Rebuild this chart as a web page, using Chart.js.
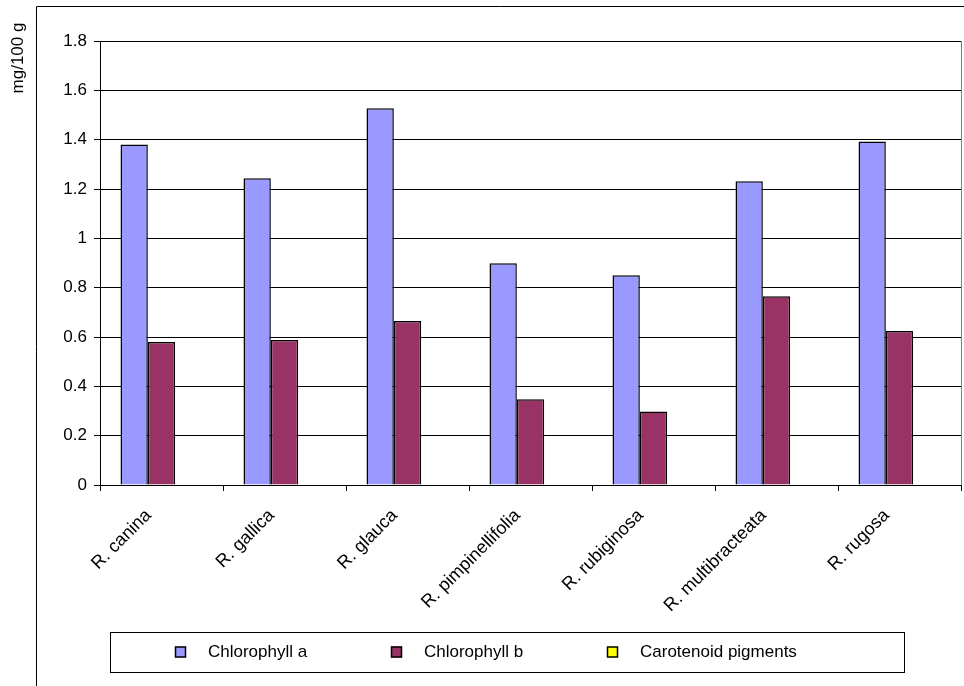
<!DOCTYPE html>
<html>
<head>
<meta charset="utf-8">
<script src="https://cdn.jsdelivr.net/npm/chart.js@4/dist/chart.umd.min.js"></script>
<style>
  html, body { margin: 0; padding: 0; background: #fff; }
  #c { display: block; }
</style>
</head>
<body>
<canvas id="c" width="964" height="686"></canvas>
<script>
// Rose species and pigment contents (mg/100 g)
const species = ['R. canina', 'R. gallica', 'R. glauca', 'R. pimpinellifolia', 'R. rubiginosa', 'R. multibracteata', 'R. rugosa'];
const chlorophyllA = [1.38, 1.244, 1.527, 0.899, 0.85, 1.231, 1.393];
const chlorophyllB = [0.58, 0.588, 0.665, 0.348, 0.298, 0.765, 0.624];
const carotenoids = [null, null, null, null, null, null, null];
const seriesNames = ['Chlorophyll a', 'Chlorophyll b', 'Carotenoid pigments'];
const seriesColors = ['#9999FF', '#993366', '#FFFF00'];
const yTicks = [0, 0.2, 0.4, 0.6, 0.8, 1, 1.2, 1.4, 1.6, 1.8];
const yTitle = 'mg/100 g';

const FONT = '"Liberation Sans", Arial, sans-serif';

// Outer frame, y-axis caption and right border of the plot area
const decorations = {
  id: 'decorations',
  beforeDraw(chart) {
    const ctx = chart.ctx;
    ctx.save();
    ctx.fillStyle = '#fff';
    ctx.fillRect(0, 0, chart.width, chart.height);
    ctx.strokeStyle = '#000';
    ctx.lineWidth = 1;
    ctx.beginPath();
    ctx.moveTo(36.5, chart.height);
    ctx.lineTo(36.5, 6.5);
    ctx.lineTo(chart.width, 6.5);
    ctx.stroke();
    ctx.restore();
  },
  afterDraw(chart) {
    const ctx = chart.ctx;
    const a = chart.chartArea;
    ctx.save();
    ctx.strokeStyle = '#808080';
    ctx.lineWidth = 1;
    ctx.beginPath();
    ctx.moveTo(Math.round(a.right) + 0.5, a.top);
    ctx.lineTo(Math.round(a.right) + 0.5, a.bottom);
    ctx.stroke();

    ctx.fillStyle = '#000';
    ctx.font = '17px ' + FONT;
    ctx.translate(18, 58);
    ctx.rotate(-Math.PI / 2);
    ctx.textAlign = 'center';
    ctx.textBaseline = 'middle';
    ctx.fillText(yTitle, 0, 0);
    ctx.restore();
  }
};

// Boxed legend row under the chart, one entry per dataset
const boxedLegend = {
  id: 'boxedLegend',
  afterDraw(chart) {
    const ctx = chart.ctx;
    const box = { x: 110.5, y: 632.5, w: 794, h: 40 };
    const step = 216;
    ctx.save();
    ctx.strokeStyle = '#000';
    ctx.lineWidth = 1;
    ctx.strokeRect(box.x, box.y, box.w, box.h);
    ctx.font = '17px ' + FONT;
    ctx.textBaseline = 'middle';
    ctx.textAlign = 'left';
    chart.data.datasets.forEach((ds, i) => {
      const sx = 175 + i * step;
      const cy = box.y + box.h / 2;
      ctx.fillStyle = ds.backgroundColor;
      ctx.fillRect(sx, cy - 6, 11, 11);
      ctx.strokeStyle = '#000';
      ctx.lineWidth = 1.5;
      ctx.strokeRect(sx + 0.5, cy - 5.5, 10, 10);
      ctx.fillStyle = '#000';
      ctx.fillText(ds.label, sx + 33, cy);
    });
    ctx.restore();
  }
};

const seriesData = [chlorophyllA, chlorophyllB, carotenoids];

new Chart(document.getElementById('c'), {
  type: 'bar',
  data: {
    labels: species,
    datasets: seriesData.map((d, i) => ({
      label: seriesNames[i],
      data: d,
      backgroundColor: seriesColors[i],
      borderColor: '#000',
      borderWidth: 1.5,
      categoryPercentage: 3 / 4.5,
      barPercentage: 1
    }))
  },
  options: {
    responsive: false,
    devicePixelRatio: 1,
    animation: false,
    layout: { padding: { left: 36, top: 41, right: 3, bottom: 0 } },
    plugins: {
      legend: { display: false },
      tooltip: { enabled: false }
    },
    scales: {
      x: {
        offset: true,
        grid: {
          offset: true,
          drawOnChartArea: false,
          drawTicks: true,
          tickLength: 6,
          color: '#000'
        },
        border: { color: '#000', width: 1 },
        ticks: {
          minRotation: 45,
          maxRotation: 45,
          padding: 14,
          labelOffset: -13,
          color: '#000',
          font: { family: FONT, size: 18 }
        },
        afterFit(scale) { scale.height = 201; }
      },
      y: {
        min: 0,
        max: 1.8,
        afterBuildTicks(scale) { scale.ticks = yTicks.map(v => ({ value: v })); },
        grid: { color: '#000', tickLength: 6 },
        border: { color: '#000', width: 1 },
        ticks: {
          padding: 7,
          color: '#000',
          font: { family: FONT, size: 17 },
          callback: v => String(Number(v.toFixed(1)))
        },
        afterFit(scale) { scale.width = 64; }
      }
    }
  },
  plugins: [decorations, boxedLegend]
});
</script>
</body>
</html>
